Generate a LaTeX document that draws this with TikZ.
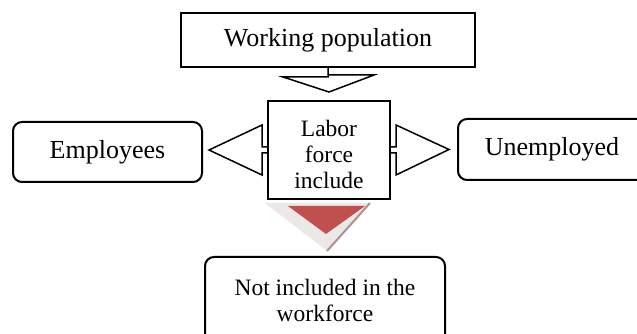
\documentclass[tikz,border=0pt]{standalone}
\usepackage{fontspec}
\setmainfont{Liberation Serif}
\usepackage{xcolor}
\usepackage{tikz}
\usetikzlibrary{arrows.meta, positioning}

\definecolor{arrowred}{HTML}{C0504D}
\definecolor{bevelgray}{HTML}{ECE8E8}
\definecolor{bevelshade}{HTML}{B08F8F}

\begin{document}
\begin{tikzpicture}[
    x=1pt, y=1pt,
    box/.style={rectangle, draw, fill=white, line width=2pt, align=center, inner sep=0pt},
    roundbox/.style={box, rounded corners=9pt},
    big/.style={font=\fontsize{26}{30}\selectfont},
    small/.style={font=\fontsize{23.5}{26}\selectfont},
    blockarrow/.style={draw, line width=1.5pt, line join=miter}
]
\clip (0,0) rectangle (637,334);

\node[box, big, minimum width=294, minimum height=54] (wp) at (328,294) {Working population};
\node[box, minimum width=122, minimum height=98] (labor) at (329,184) {};
\node[small, align=center] (laborText) at ([yshift=-4pt]labor.center) {Labor\\force\\include};
\node[roundbox, big, minimum width=189, minimum height=60] (emp) at (107.5,182) {Employees};
\node[roundbox, big, minimum width=188, minimum height=61] (unemp) at (552,184.5) {Unemployed};
\node[roundbox, small, minimum width=240, minimum height=86] (notinc) at (325,34) {Not included in the\\workforce};

% open arrows
\draw[blockarrow] (wp.south) -- ++(0,-9) -- ++(-45,0) -- ([yshift=8pt]labor.north) -- ++(45,17) -- ++(-45,0);
\draw[blockarrow] ([yshift=3pt]labor.west) -- ++(-5,0) -- ++(0,22) -- ([xshift=6pt,yshift=2pt]emp.east)
    -- ([xshift=-5pt,yshift=-25pt]labor.west) -- ++(0,22) -- ++(5,0);
\draw[blockarrow] ([yshift=3pt]labor.east) -- ++(5,0) -- ++(0,22) -- ([xshift=-8pt]unemp.west)
    -- ([xshift=5pt,yshift=-25pt]labor.east) -- ++(0,22) -- ++(-5,0);

% filled arrow
\fill[bevelgray] ([xshift=-64pt,yshift=-3pt]labor.south) -- ++(105,0) -- ([xshift=-2pt,yshift=-51pt]labor.south) -- cycle;
\draw[bevelshade, line width=2pt] ([xshift=41pt,yshift=-3pt]labor.south) -- ([xshift=-2pt,yshift=-51pt]labor.south);
\fill[arrowred] ([xshift=-41pt,yshift=-6pt]labor.south) -- ++(77,0) -- ([xshift=-3pt,yshift=-34pt]labor.south) -- cycle;
\end{tikzpicture}
\end{document}
